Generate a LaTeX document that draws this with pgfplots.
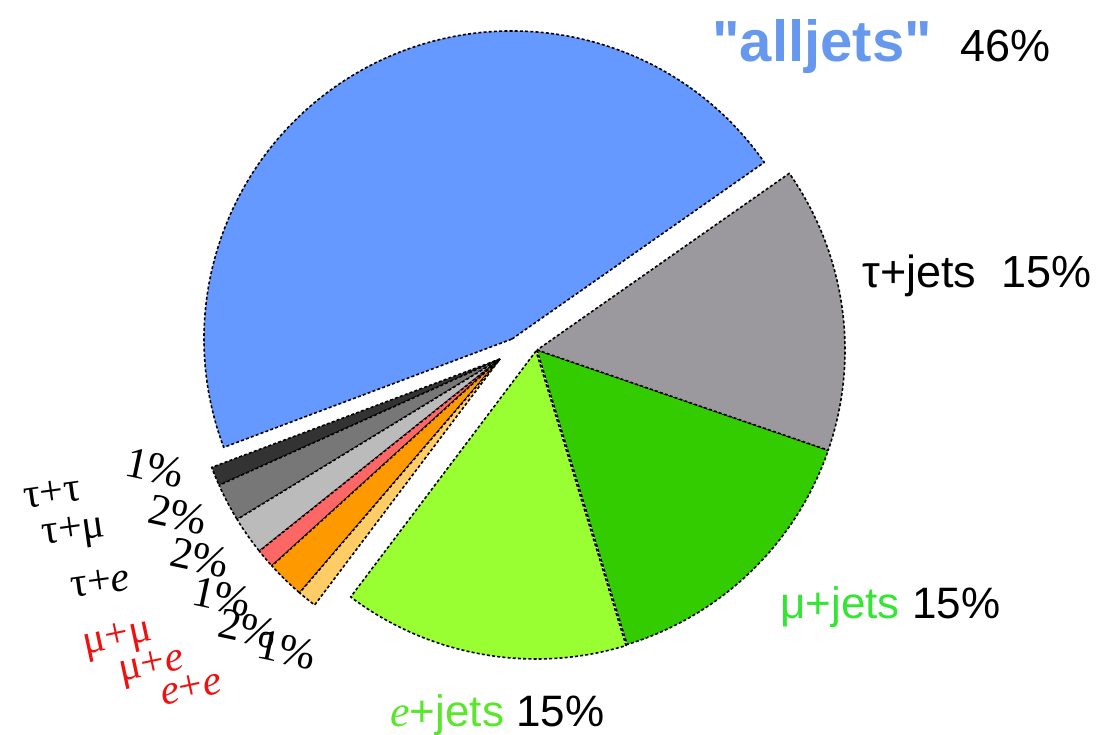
\documentclass[border=0pt]{standalone}
\usepackage{pgfplots}
\pgfplotsset{compat=1.18}
\usepackage{fontspec}
\setmainfont{Liberation Sans}
\newfontfamily\serif{Liberation Serif}
\definecolor{cAll}{HTML}{6699FF}
\definecolor{cTauJ}{HTML}{9B999E}
\definecolor{cMuJ}{HTML}{33CC00}
\definecolor{cEJ}{HTML}{99FF33}
\definecolor{cTT}{HTML}{333333}
\definecolor{cTM}{HTML}{777777}
\definecolor{cTE}{HTML}{BBBBBB}
\definecolor{cMM}{HTML}{FF6666}
\definecolor{cME}{HTML}{FF9900}
\definecolor{cEE}{HTML}{FFCC66}
\definecolor{tAll}{HTML}{6699EE}
\definecolor{tMu}{HTML}{33E633}
\definecolor{tE}{HTML}{5AE62A}
\definecolor{tRed}{HTML}{EE1111}
% #1,#2 apex (px), #3 cumulative percent before slice, #4 percent, #5 colour
\newcommand{\slice}[5]{%
  \filldraw[fill=#5, draw=black, line width=0.8pt, dash pattern=on 1.5pt off 1.1pt, line join=round]
    (axis cs:#1,#2) -- ++({35+3.6*#3}:154pt)
    arc[start angle={35+3.6*#3}, end angle={35+3.6*(#3+#4)}, radius=154pt] -- cycle;}
\begin{document}
\begin{tikzpicture}
\begin{axis}[hide axis, x=0.5pt, y=0.5pt, xmin=0, xmax=1113, ymin=0, ymax=734, clip=false]
% slices: apex x, apex y, start %, share %, colour
\slice{512}{395}{0}{46}{cAll}
\slice{500}{375}{46}{1}{cTT}
\slice{500}{375}{47}{2}{cTM}
\slice{500}{375}{49}{2}{cTE}
\slice{500}{375}{51}{1}{cMM}
\slice{500}{375}{52}{2}{cME}
\slice{500}{375}{54}{1}{cEE}
\slice{536}{383}{55}{15}{cEJ}
\slice{537}{384}{70}{15}{cMuJ}
\slice{537}{384}{85}{15}{cTauJ}
% big labels
\node[anchor=base west, inner sep=0pt, text=tAll, font=\fontsize{29}{33}\selectfont\bfseries] at (axis cs:712,672) {\textquotedbl alljets\textquotedbl};
\node[anchor=base west, inner sep=0pt, font=\fontsize{22.5}{26}\selectfont] at (axis cs:960,672) {46\%};
\node[anchor=base west, inner sep=0pt, font=\fontsize{22.5}{26}\selectfont] at (axis cs:862,446) {τ+jets\ \ 15\%};
\node[anchor=base west, inner sep=0pt, font=\fontsize{22}{26}\selectfont] at (axis cs:780,116) {\textcolor{tMu}{μ+jets} 15\%};
\node[anchor=base west, inner sep=0pt, font=\fontsize{22}{26}\selectfont] at (axis cs:390,8) {\textcolor{tE}{{\serif\itshape e}+jets} 15\%};
% small labels
\begin{scope}[every node/.style={inner sep=0pt, font=\serif\fontsize{21}{24}\selectfont}]
\node[rotate=8] at (axis cs:52,241) {τ+τ};
\node[rotate=8] at (axis cs:74,201) {τ+μ};
\node[rotate=8] at (axis cs:100,152) {τ+\textit{e}};
\node[rotate=12, text=tRed] at (axis cs:118,94) {μ+μ};
\node[rotate=12, text=tRed] at (axis cs:152,66) {μ+\textit{e}};
\node[rotate=12, text=tRed] at (axis cs:191,46) {\textit{e}+\textit{e}};
\end{scope}
\begin{scope}[every node/.style={inner sep=0pt, font=\serif\fontsize{22}{26}\selectfont}]
\node[rotate=-12] at (axis cs:155,266) {1\%};
\node[rotate=-12] at (axis cs:178,219) {2\%};
\node[rotate=-12] at (axis cs:200,176) {2\%};
\node[rotate=-12] at (axis cs:222,137) {1\%};
\node[rotate=-12] at (axis cs:248,105) {2\%};
\node[rotate=-12] at (axis cs:287,84) {1\%};
\end{scope}
\end{axis}
\pgfresetboundingbox
\path (current axis.south west) rectangle (current axis.north east);
\end{tikzpicture}
\end{document}
